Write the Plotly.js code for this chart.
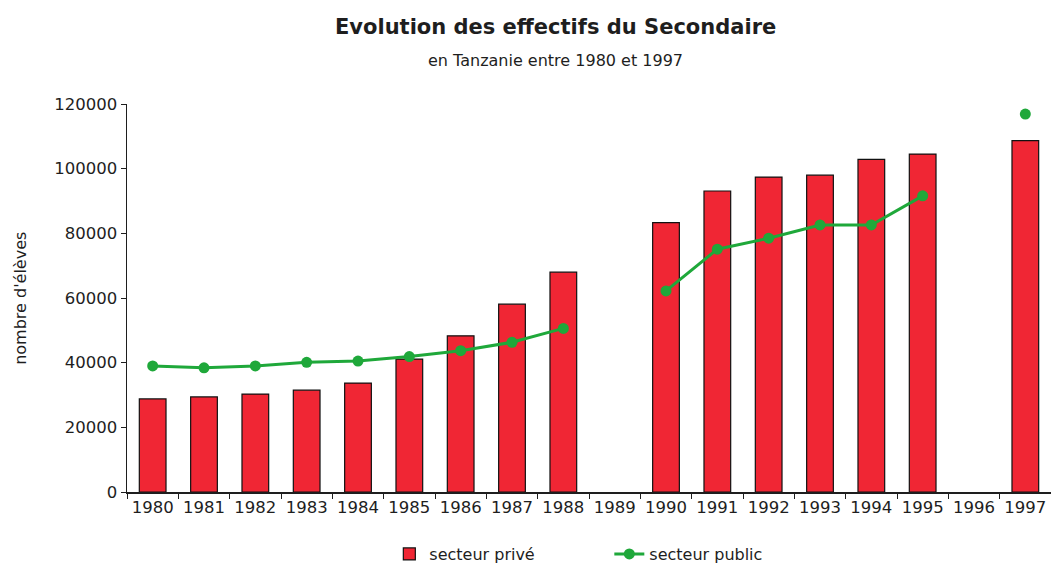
<!DOCTYPE html>
<html>
<head>
<meta charset="utf-8">
<script src="https://cdn.plot.ly/plotly-3.0.1.min.js"></script>
<style>html,body{margin:0;padding:0;background:#fff;}#chart{width:1051px;height:571px;}</style>
</head>
<body>
<div id="chart"></div>
<script>
const years = ['1980','1981','1982','1983','1984','1985','1986','1987','1988','1989','1990','1991','1992','1993','1994','1995','1996','1997'];
const secteurPrive = [28800, 29400, 30300, 31500, 33700, 41100, 48300, 58100, 68000, null, 83300, 93100, 97400, 98000, 102900, 104500, null, 108700];
const secteurPublic = [39000, 38400, 39000, 40100, 40500, 41900, 43700, 46300, 50600, null, 62200, 75100, 78500, 82600, 82600, 91600, null, 116900];
const yTicks = [0, 20000, 40000, 60000, 80000, 100000, 120000];

const font = 'DejaVu Sans, Liberation Sans, Arial, sans-serif';
const ink = '#1e1e1e';
const traces = [
  {
    type: 'bar', name: 'secteur privé', x: years, y: secteurPrive,
    width: 0.52,
    marker: {color: '#f02634', line: {color: '#111', width: 1.2}}
  },
  {
    type: 'scatter', mode: 'lines+markers', name: 'secteur public', x: years, y: secteurPublic,
    connectgaps: false,
    line: {color: '#1fa83a', width: 3},
    marker: {color: '#1fa83a', size: 11}
  }
];
const layout = {
  width: 1051, height: 571,
  margin: {l: 127, r: 0, t: 104, b: 79},
  paper_bgcolor: '#fff', plot_bgcolor: '#fff',
  font: {family: font, color: ink, size: 16},
  showlegend: true,
  legend: {orientation: 'h', x: 0.522, xanchor: 'center', y: -0.205, yanchor: 'bottom', font: {size: 16, color: ink}, entrywidth: 175, entrywidthmode: 'pixels'},
  xaxis: {
    type: 'category', range: [-0.5, 17.5], showgrid: false, showline: true, linecolor: ink, linewidth: 1.5,
    ticks: 'outside', ticklen: 5, tickcolor: ink, tickson: 'boundaries',
    tickfont: {size: 16.5, color: ink}, zeroline: false
  },
  yaxis: {
    range: [0, 120000], tickvals: yTicks, ticktext: yTicks.map(String),
    showgrid: false, showline: true, linecolor: ink, linewidth: 1.5,
    ticks: 'outside', ticklen: 5, tickcolor: ink, zeroline: false,
    tickfont: {size: 16.5, color: ink}
  },
  annotations: [
    {text: '<b>Evolution des effectifs du Secondaire</b>', xref: 'paper', yref: 'paper', x: 0.464, y: 1.0, yshift: 77, xanchor: 'center', yanchor: 'middle', showarrow: false, font: {size: 21, color: ink, family: font}},
    {text: 'en Tanzanie entre 1980 et 1997', xref: 'paper', yref: 'paper', x: 0.464, y: 1.0, yshift: 44, xanchor: 'center', yanchor: 'middle', showarrow: false, font: {size: 16, color: ink, family: font}},
    {text: "nombre d'élèves", xref: 'paper', yref: 'paper', x: -0.116, y: 0.5, xanchor: 'center', yanchor: 'middle', textangle: -90, showarrow: false, font: {size: 16, color: ink, family: font}}
  ]
};
Plotly.newPlot('chart', traces, layout, {displayModeBar: false, staticPlot: true});
</script>
</body>
</html>
